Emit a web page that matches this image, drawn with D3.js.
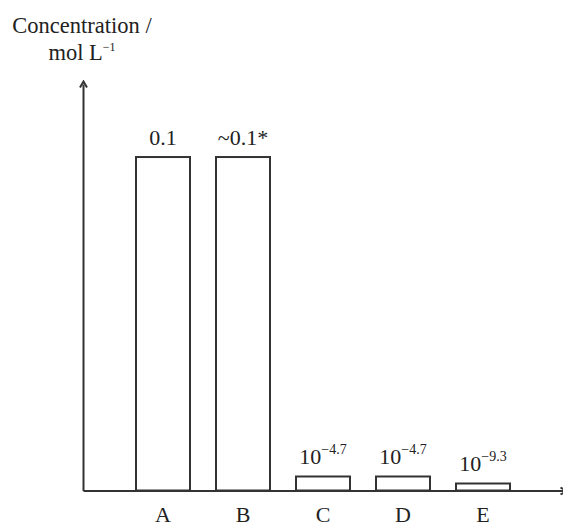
<!DOCTYPE html>
<html lang="en">
<meta charset="utf-8"/>
<head>
<script src="https://d3js.org/d3.v7.min.js"></script>
</head>
<style>
  body { margin: 0; background: #fff; }
  text { font-family: "Liberation Serif", "Times New Roman", serif; fill: #222; }
  .bar { fill: #fff; stroke: #333; stroke-width: 2; }
  .axis path { stroke: #333; stroke-width: 2; fill: none; }
  .axis text { font-size: 22px; font-family: "Liberation Serif", serif; fill: #222; }
</style>
<body>
<script>
// schematic chart: bar heights are drawn heights, not to scale
var categories = ["A", "B", "C", "D", "E"];
var barHeights = [0.1, 0.1, 0.0042, 0.0042, 0.0021];
var labelBase = ["0.1", "~0.1*", "10", "10", "10"];
var labelExp = ["", "", "\u22124.7", "\u22124.7", "\u22129.3"];

var W = 563, H = 527;

var svg = d3.select("body").append("svg")
    .attr("width", W)
    .attr("height", H);

svg.append("defs").append("marker")
    .attr("id", "arrow")
    .attr("viewBox", "0 0 10 10")
    .attr("refX", 5)
    .attr("refY", 5)
    .attr("markerWidth", 5)
    .attr("markerHeight", 5)
    .attr("markerUnits", "strokeWidth")
    .attr("orient", "auto")
  .append("path")
    .attr("d", "M2,1.5 L8,5 L2,8.5")
    .attr("fill", "none")
    .attr("stroke", "#333")
    .attr("stroke-width", 2);

var x = d3.scaleBand()
    .domain(categories)
    .range([83, 563])
    .paddingInner(0.325)
    .paddingOuter(0.6625);

var y = d3.scaleLinear()
    .domain([0, 0.1219])
    .range([490.5, 84]);

// bars
svg.selectAll(".bar")
    .data(barHeights).enter()
    .append("rect")
    .attr("class", "bar")
    .attr("x", function(d, i) { return x(categories[i]); })
    .attr("width", x.bandwidth())
    .attr("y", function(d) { return y(d); })
    .attr("height", function(d) { return y(0) - y(d); });

// value labels
var lab = svg.selectAll(".val")
    .data(barHeights).enter()
    .append("text")
    .attr("class", "val")
    .attr("text-anchor", "middle")
    .attr("x", function(d, i) { return x(categories[i]) + x.bandwidth() / 2; })
    .attr("y", function(d) { return y(d) - 12; })
    .style("font-size", "22px");
lab.append("tspan").text(function(d, i) { return labelBase[i]; });
lab.append("tspan")
    .attr("dy", -10)
    .style("font-size", "14px")
    .text(function(d, i) { return labelExp[i]; });

// axes
var xAxis = svg.append("g")
    .attr("class", "axis")
    .attr("transform", "translate(0," + y(0) + ")")
    .call(d3.axisBottom(x).tickSize(0).tickPadding(16));
xAxis.select(".domain").attr("marker-end", "url(#arrow)");

var yAxis = svg.append("g")
    .attr("class", "axis")
    .attr("transform", "translate(83,0)")
    .call(d3.axisLeft(y).ticks(0).tickSizeOuter(0));
yAxis.select(".domain").attr("marker-end", "url(#arrow)");

// axis title
svg.append("text")
    .attr("x", 82)
    .attr("y", 33)
    .attr("text-anchor", "middle")
    .style("font-size", "22.5px")
    .text("Concentration /");

var t2 = svg.append("text")
    .attr("x", 82)
    .attr("y", 60)
    .attr("text-anchor", "middle")
    .style("font-size", "22.5px");
t2.append("tspan").text("mol L");
t2.append("tspan")
    .attr("dy", -9)
    .style("font-size", "12px")
    .text("\u22121");
</script>
</body>
</html>
